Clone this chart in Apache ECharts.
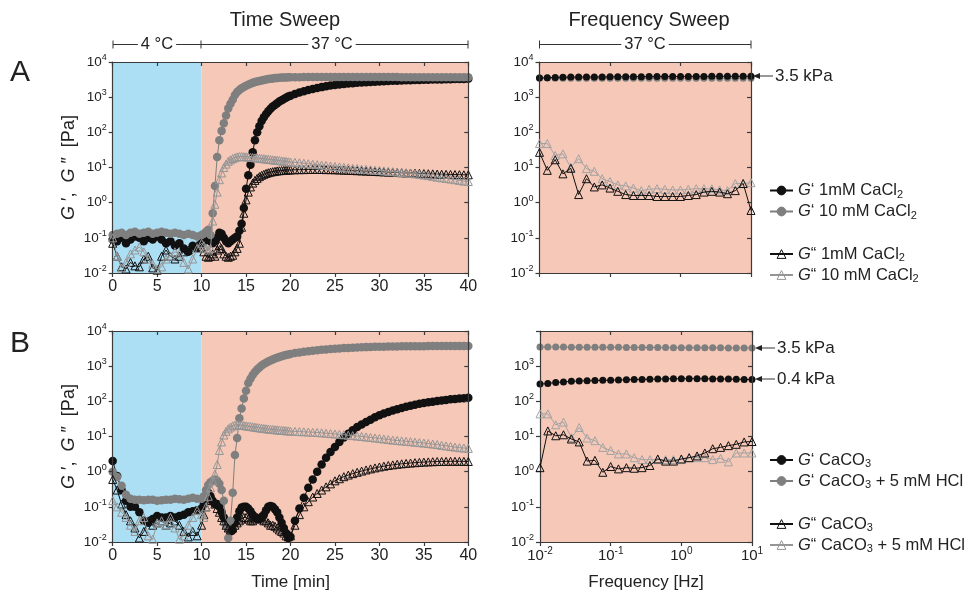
<!DOCTYPE html>
<html><head><meta charset="utf-8">
<script src="https://cdn.jsdelivr.net/npm/echarts@6/dist/echarts.min.js"></script>
<style>html,body{margin:0;padding:0;background:#fff}#c{width:971px;height:597px}</style>
</head><body><div id="c"></div>
<script>
// ---------- DATA ----------
const timeMin = [0,0.5,1,1.5,2,2.5,3,3.5,4,4.5,5,5.5,6,6.5,7,7.5,8,8.5,9,9.5,10,
 10.25,10.5,10.75,11,11.25,11.5,11.75,12,12.25,12.5,12.75,13,13.25,13.5,13.75,14,14.25,14.5,14.75,15,15.25,15.5,15.75,16,16.25,16.5,16.75,17,17.25,17.5,17.75,18,18.25,18.5,18.75,19,19.25,19.5,19.75,20,
 20.5,21,21.5,22,22.5,23,23.5,24,24.5,25,25.5,26,26.5,27,27.5,28,28.5,29,29.5,30,30.5,31,31.5,32,32.5,33,33.5,34,34.5,35,35.5,36,36.5,37,37.5,38,38.5,39,39.5,40];
const phaseBounds = [0, 10, 40];
const timeTicks = [0,5,10,15,20,25,30,35,40];

// Panel A, time sweep
const aTimeGp1mM = [0.09,0.08,0.1,0.07,0.09,0.11,0.1,0.08,0.1,0.09,0.11,0.09,0.07,0.08,0.06,0.07,0.05,0.04,0.06,0.05,0.07,
 0.08,0.1,0.09,0.08, 0.07,0.08,0.1,0.14, 0.13,0.1,0.08,0.07, 0.08,0.09,0.1,0.11, 0.16,0.25,0.7,2.5, 6,12,27,60, 100,150,210,270, 330,400,470,540, 600,670,750,820, 890,960,1040,1100,
 1230,1360,1480,1600,1720,1830,1930,2030,2130,2220, 2300,2370,2440,2500,2560,2610,2660,2710,2750,2790, 2830,2870,2910,2950,2980,3010,3040,3070,3100,3120, 3140,3160,3180,3200,3220,3240,3260,3280,3300,3320];
const aTimeGp10mM = [0.12,0.13,0.14,0.12,0.14,0.15,0.13,0.14,0.15,0.13,0.14,0.15,0.14,0.13,0.14,0.13,0.12,0.13,0.12,0.11,0.12,
 0.13,0.15,0.17,0.12, 0.5,3,20,60, 110,180,300,480, 650,850,1150,1400, 1600,1800,1950,2100, 2250,2400,2550,2700, 2800,2900,3000,3100, 3200,3280,3350,3420, 3480,3530,3570,3600, 3630,3650,3670,3690,
 3700,3710,3720,3720,3730,3730,3740,3740,3740,3740, 3740,3740,3740,3740,3740,3740,3740,3730,3730,3730, 3730,3720,3720,3720,3710,3710,3710,3700,3700,3700, 3700,3690,3690,3690,3680,3680,3680,3670,3670,3670];
const aTimeGpp1mM = [0.07,0.03,0.015,0.013,0.02,0.016,0.015,0.025,0.03,0.014,0.012,0.03,0.045,0.03,0.025,0.03,0.04,0.045,0.055,0.06,0.05,
 0.04,0.03,0.028,0.03, 0.035,0.03,0.045,0.06, 0.05,0.035,0.03,0.028, 0.03,0.032,0.04,0.05, 0.07,0.2,0.5,1.2, 2,2.8,3.6,4.3, 4.9,5.5,6,6.4, 6.8,7.1,7.4,7.6, 7.8,8,8.1,8.2, 8.3,8.4,8.5,8.5,
 8.6,8.7,8.7,8.8,8.8,8.8,8.8,8.7,8.7,8.6, 8.5,8.4,8.3,8.2,8.1,8,7.9,7.8,7.7,7.6, 7.5,7.4,7.3,7.2,7.1,7,6.95,6.9,6.8,6.7, 6.65,6.6,6.5,6.45,6.4,6.35,6.3,6.25,6.2,6.2];
const aTimeGpp10mM = [0.1,0.03,0.014,0.02,0.035,0.045,0.055,0.04,0.025,0.018,0.013,0.015,0.025,0.03,0.04,0.035,0.02,0.013,0.025,0.05,0.07,
 0.06,0.05,0.045,0.05, 0.3,0.9,2,4.5, 7,10,12.5,15, 16.5,18,19,20, 20.5,20.5,20.3,20, 19.8,19.5,19.2,18.9, 18.6,18.3,18,17.7, 17.4,17.1,16.8,16.5, 16.2,16,15.7,15.4, 15.1,14.8,14.5,14.3,
 14,13.6,13.2,12.8,12.4,12,11.7,11.4,11,10.7, 10.4,10.1,9.8,9.5,9.3,9,8.8,8.6,8.4,8.2, 8,7.8,7.6,7.4,7.2,7,6.8,6.6,6.4,6.1, 5.9,5.6,5.3,5.1,4.9,4.7,4.5,4.3,4.1,4];

// Panel B, time sweep
const bTimeGpCaCO3 = [2.0,0.75,0.3,0.15,0.1,0.1,0.07,0.04,0.035,0.045,0.055,0.05,0.05,0.055,0.05,0.055,0.06,0.07,0.075,0.08,0.09,
 0.12,0.2,0.25,0.2, 0.15,0.12,0.12,0.1, 0.07,0.05,0.035,0.025, 0.02,0.022,0.035,0.05, 0.075,0.095,0.1,0.1, 0.09,0.075,0.06,0.05, 0.045,0.045,0.05,0.06, 0.08,0.1,0.105,0.1, 0.085,0.07,0.05,0.035, 0.025,0.018,0.013,0.014,
 0.04,0.09,0.18,0.35,0.6,1.0,1.6,2.5,3.6,5, 7,9.3,12,15,18.5,22,26,30,35,40, 45,50,55,60,65,70,75,80,85,90, 94,98,102,106,110,114,117,120,123,126];
const bTimeGpHCl = [1.0,0.7,0.4,0.22,0.17,0.16,0.16,0.155,0.16,0.16,0.15,0.155,0.16,0.16,0.17,0.165,0.16,0.17,0.18,0.17,0.17,
 0.2,0.3,0.42,0.5, 0.55,0.6,0.55,0.45, 0.3,0.15,0.03,0.013, 0.04,0.25,3,9, 33,63,120,200, 330,440,560,680, 800,920,1040,1150, 1250,1350,1450,1550, 1650,1740,1830,1920, 2000,2080,2160,2230,
 2350,2460,2560,2660,2750,2840,2920,3000,3070,3140, 3200,3260,3310,3360,3400,3440,3480,3510,3540,3570, 3590,3610,3630,3650,3660,3670,3680,3690,3700,3710, 3720,3720,3730,3730,3740,3740,3740,3750,3750,3750];
const bTimeGppCaCO3 = [0.6,0.3,0.12,0.06,0.04,0.025,0.013,0.02,0.04,0.03,0.035,0.04,0.03,0.035,0.04,0.03,0.02,0.014,0.02,0.015,0.03,
 0.06,0.1,0.15,0.17, 0.15,0.12,0.09,0.07, 0.05,0.04,0.03,0.025, 0.022,0.025,0.03,0.035, 0.04,0.045,0.05,0.05, 0.045,0.04,0.04,0.045, 0.05,0.05,0.045,0.04, 0.04,0.035,0.03,0.03, 0.028,0.025,0.022,0.02, 0.018,0.015,0.014,0.015,
 0.03,0.06,0.1,0.14,0.19,0.24,0.3,0.37,0.45,0.55, 0.63,0.72,0.8,0.88,0.96,1.04,1.12,1.2,1.28,1.36, 1.43,1.5,1.56,1.62,1.67,1.72,1.76,1.8,1.84,1.87, 1.9,1.92,1.94,1.95,1.96,1.97,1.97,1.97,1.96,1.95];
const bTimeGppHCl = [0.15,0.1,0.07,0.05,0.03,0.02,0.04,0.05,0.015,0.012,0.035,0.04,0.03,0.05,0.025,0.012,0.015,0.03,0.05,0.08,0.06,
 0.05,0.1,0.2,0.35, 0.55,0.85,1.6,4, 7,11,14,16.5, 18.5,20,21,21.5, 21.5,21,20.5,20, 19.6,19.2,18.8,18.4, 18,17.6,17.2,16.9, 16.6,16.3,16,15.8, 15.6,15.4,15.2,15, 14.8,14.6,14.4,14.2,
 14,13.8,13.6,13.4,13.2,13,12.7,12.4,12.1,11.8, 11.5,11.2,10.9,10.6,10.3,10,9.7,9.4,9.1,8.8, 8.5,8.2,7.9,7.7,7.5,7.3,7.1,6.9,6.7,6.5, 6.3,6.1,5.9,5.6,5.4,5.2,5,4.8,4.7,4.6];

// Frequency sweeps
const freqHz = [0.01,0.0129,0.0167,0.0215,0.0278,0.0359,0.0464,0.0599,0.0774,0.1,0.129,0.167,0.215,0.278,0.359,0.464,0.599,0.774,1,1.29,1.67,2.15,2.78,3.59,4.64,5.99,7.74,10];
const aFreqGp1mM = [3500,3550,3650,3700,3720,3740,3750,3760,3770,3780,3800,3810,3820,3830,3840,3850,3860,3870,3880,3890,3900,3900,3910,3910,3920,3920,3930,3930];
const aFreqGp10mM = [3500,3480,3450,3450,3440,3440,3440,3440,3450,3450,3450,3450,3450,3450,3450,3450,3450,3450,3450,3460,3460,3460,3460,3460,3470,3470,3470,3470];
const aFreqGpp1mM = [27,8.3,16.6,6.6,9.5,1.7,4.8,2.8,3.2,2.6,2.1,1.7,1.6,1.6,1.6,1.5,1.5,1.5,1.5,1.6,1.7,2.0,2.1,2.0,1.8,2.2,3.5,0.6];
const aFreqGpp10mM = [48,48,22,24.5,10.2,17.8,9.3,7.8,4.8,4.0,3.2,3.0,2.6,2.2,2.4,2.5,2.4,2.3,2.3,2.4,2.5,2.5,2.5,2.3,2.2,3.5,3.5,3.7];
const bFreqGpCaCO3 = [310,320,345,355,370,380,385,390,395,400,405,410,415,420,425,430,435,440,440,440,440,440,435,435,430,425,420,415];
const bFreqGpHCl = [3500,3500,3480,3480,3460,3460,3450,3450,3440,3440,3430,3420,3400,3400,3390,3380,3370,3360,3350,3350,3340,3330,3320,3320,3310,3300,3300,3300];
const bFreqGppCaCO3 = [1.3,14.4,10.5,11.2,8.5,7,2.0,2.1,0.96,1.4,1.2,1.3,1.25,1.3,1.5,2.3,2.0,2.0,2.3,2.5,2.8,3.4,4.5,4.9,5.5,6,7,7.2];
const bFreqGppHCl = [44,44,21.5,25.7,9.3,18,9,7.6,4.9,4.0,3.2,3.2,2.5,2.2,2.2,2.2,2.2,2.2,2.2,2.5,2.5,2.5,2.2,2.4,1.9,3.4,3.4,3.4];

const legendLabels = {
  aGp1: '{i|G}‘ 1mM CaCl{sub|2}', aGp10: '{i|G}‘ 10 mM CaCl{sub|2}',
  aGpp1: '{i|G}“ 1mM CaCl{sub|2}', aGpp10: '{i|G}“ 10 mM CaCl{sub|2}',
  bGp: '{i|G}‘ CaCO{sub|3}', bGpH: '{i|G}‘ CaCO{sub|3} + 5 mM HCl',
  bGpp: '{i|G}“ CaCO{sub|3}', bGppH: '{i|G}“ CaCO{sub|3} + 5 mM HCl'
};

// ---------- STYLE ----------
const FONT = '"Liberation Sans", Arial, Helvetica, sans-serif';
const BLUE = '#ADDFF4', PINK = '#F6C8B8';
const TXT = '#222';
const AX = {color: '#3a3a3a', width: 1.2};
const C_BLACK = '#111', C_GRAY = '#7f7f7f', C_LGRAY = '#a3a3a3', C_TGRAY = '#959595';

const ySup = {b:{fontSize:13.5,fontFamily:FONT,color:TXT,lineHeight:18}, s:{fontSize:9,fontFamily:FONT,color:TXT,lineHeight:9,verticalAlign:'top'}};
const xSup = {b:{fontSize:15,fontFamily:FONT,color:TXT,lineHeight:20}, s:{fontSize:10,fontFamily:FONT,color:TXT,lineHeight:10,verticalAlign:'top'}};
function expFmt(hideTop){ return v => { const e = Math.round(Math.log10(v)); if (hideTop && e === 4) return ''; return '{b|10}{s|' + e + '}'; }; }

const grids = [
  {left:112.7, top:62, width:355.6, height:211},
  {left:539.5, top:62, width:211.5, height:211, show:true, backgroundColor:PINK, borderWidth:0},
  {left:112.7, top:331, width:355.6, height:211},
  {left:540, top:331, width:212, height:211, show:true, backgroundColor:PINK, borderWidth:0}
];

function xPair(gi, isTime, showLabels, name){
  const base = isTime ? {type:'value', min:timeTicks[0], max:timeTicks[timeTicks.length-1], interval:timeTicks[1]-timeTicks[0]}
                      : {type:'log', logBase:10, min:freqHz[0], max:freqHz[freqHz.length-1]};
  const bottom = Object.assign({gridIndex:gi, position:'bottom', z:5,
    axisLine:{show:true, onZero:false, lineStyle:AX},
    axisTick:{show:true, inside:false, length:4, lineStyle:AX},
    minorTick:{show:false}, splitLine:{show:false},
    axisLabel: isTime ? {show:showLabels, fontSize:16, fontFamily:FONT, color:TXT, margin:6}
                      : {show:showLabels, formatter:expFmt(false), rich:xSup, margin:4},
    name: name || '', nameLocation:'middle', nameGap:32,
    nameTextStyle:{fontSize:17, fontFamily:FONT, color:TXT}
  }, base);
  const top = Object.assign({gridIndex:gi, position:'top', z:5,
    axisLine:{show:true, onZero:false, lineStyle:AX},
    axisTick:{show:true, inside:true, length:4, lineStyle:AX},
    splitLine:{show:false}, axisLabel:{show:false}
  }, base);
  return [bottom, top];
}
function yPair(gi, hideTop, withName){
  const base = {type:'log', logBase:10, min:0.01, max:10000};
  const left = Object.assign({gridIndex:gi, position:'left', z:5,
    axisLine:{show:true, onZero:false, lineStyle:AX},
    axisTick:{show:true, inside:false, length:4, lineStyle:AX},
    splitLine:{show:false},
    axisLabel:{formatter:expFmt(hideTop), rich:ySup, margin:6},
    name: withName ? '{i|G} ′,  {i|G} ″  [Pa]' : '', nameLocation:'middle', nameGap:35, nameRotate:90,
    nameTextStyle:{fontSize:18, fontFamily:FONT, color:TXT, rich:{i:{fontStyle:'italic', fontSize:18, fontFamily:FONT, color:TXT}}}
  }, base);
  const right = Object.assign({gridIndex:gi, position:'right', z:5,
    axisLine:{show:true, onZero:false, lineStyle:AX},
    axisTick:{show:true, inside:true, length:4, lineStyle:AX},
    splitLine:{show:false}, axisLabel:{show:false}
  }, base);
  return [left, right];
}

const xAxis = [].concat(xPair(0,true,true), xPair(1,false,false), xPair(2,true,true,'Time [min]'), xPair(3,false,true,'Frequency [Hz]'));
const yAxis = [].concat(yPair(0,false,true), yPair(1,false,false), yPair(2,false,true), yPair(3,true,false));

function pairs(xs, ys){ return xs.map((x,i)=>[x, ys[i]]); }
function circ(name, gi, xs, ys, color, size, z){
  return {name, type:'line', xAxisIndex:2*gi, yAxisIndex:2*gi, data:pairs(xs,ys), z,
    symbol:'circle', symbolSize:size, showSymbol:true, showAllSymbol:true,
    itemStyle:{color, borderColor:color, borderWidth:0},
    lineStyle:{color, width:1}, emphasis:{disabled:true}};
}
function tri(name, gi, xs, ys, color, size, z){
  return {name, type:'line', xAxisIndex:2*gi, yAxisIndex:2*gi, data:pairs(xs,ys), z,
    symbol:'triangle', symbolSize:size, showSymbol:true, showAllSymbol:true,
    itemStyle:{color:'rgba(255,255,255,0)', borderColor:color, borderWidth:1},
    lineStyle:{color, width:1}, emphasis:{disabled:true}};
}
function phaseBg(gi){
  return {type:'line', xAxisIndex:2*gi, yAxisIndex:2*gi, data:[[phaseBounds[0],1]], z:1, silent:true,
    showSymbol:false, lineStyle:{width:0}, legendHoverLink:false,
    markArea:{silent:true, data:[
      [{xAxis:phaseBounds[0], itemStyle:{color:BLUE}}, {xAxis:phaseBounds[1]}],
      [{xAxis:phaseBounds[1], itemStyle:{color:PINK}}, {xAxis:phaseBounds[2]}]
    ]}};
}

const series = [
  phaseBg(0), phaseBg(2),
  circ('aGp1', 0, timeMin, aTimeGp1mM, C_BLACK, 8.5, 3),
  circ('aGp10', 0, timeMin, aTimeGp10mM, C_GRAY, 8.5, 4),
  tri('aGpp1', 0, timeMin, aTimeGpp1mM, C_BLACK, 8, 5),
  tri('aGpp10', 0, timeMin, aTimeGpp10mM, C_TGRAY, 8, 6),
  circ('aGp10', 1, freqHz, aFreqGp10mM, C_GRAY, 7, 3),
  circ('aGp1', 1, freqHz, aFreqGp1mM, C_BLACK, 7, 4),
  tri('aGpp10', 1, freqHz, aFreqGpp10mM, C_LGRAY, 8, 5),
  tri('aGpp1', 1, freqHz, aFreqGpp1mM, C_BLACK, 8, 6),
  circ('bGp', 2, timeMin, bTimeGpCaCO3, C_BLACK, 8.5, 3),
  circ('bGpH', 2, timeMin, bTimeGpHCl, C_GRAY, 8.5, 4),
  tri('bGpp', 2, timeMin, bTimeGppCaCO3, C_BLACK, 8, 5),
  tri('bGppH', 2, timeMin, bTimeGppHCl, C_TGRAY, 8, 6),
  circ('bGpH', 3, freqHz, bFreqGpHCl, C_GRAY, 7, 3),
  circ('bGp', 3, freqHz, bFreqGpCaCO3, C_BLACK, 7, 4),
  tri('bGppH', 3, freqHz, bFreqGppHCl, C_LGRAY, 8, 5),
  tri('bGpp', 3, freqHz, bFreqGppCaCO3, C_BLACK, 8, 6)
];

const legRich = {i:{fontStyle:'italic', fontSize:16.5, fontFamily:FONT, color:TXT, lineHeight:19},
                 sub:{fontSize:11, fontFamily:FONT, color:TXT, lineHeight:8, verticalAlign:'bottom'}};
function leg(names, top, gap){
  return {data:names, orient:'vertical', left:764, top, itemWidth:23, itemHeight:11, itemGap:gap,
    selectedMode:false, formatter:n => legendLabels[n], itemStyle:{borderWidth:1},
    textStyle:{fontSize:16.5, fontFamily:FONT, color:TXT, lineHeight:19, rich:legRich}};
}

const G = [];
function gLine(x1,y1,x2,y2){ G.push({type:'line', silent:true, shape:{x1,y1,x2,y2}, style:{stroke:'#333', lineWidth:1}}); }
function gText(x,y,text,size,align,bg){ G.push({type:'text', silent:true, x, y, z:10, style:{text, fontSize:size, fontFamily:FONT, fill:TXT, align:align||'center', verticalAlign:'middle', backgroundColor:bg||'transparent', padding: bg?[0,3]:0}}); }
function arrow(x, y, text){
  gLine(x+3, y, x+20, y);
  G.push({type:'polygon', silent:true, shape:{points:[[x,y],[x+7,y-3],[x+7,y+3]]}, style:{fill:'#222'}});
  gText(x+22, y, text, 17, 'left');
}
gText(285, 20, 'Time Sweep', 20);
gText(649, 20, 'Frequency Sweep', 20);
gLine(113, 44.5, 468, 44.5); [113,201,468].forEach(x=>gLine(x,40.5,x,48.5));
gText(157, 44.5, '4 °C', 16.5, 'center', '#fff');
gText(332, 44.5, '37 °C', 16.5, 'center', '#fff');
gLine(539.5, 44.5, 751, 44.5); [539.5,751].forEach(x=>gLine(x,40.5,x,48.5));
gText(645, 44.5, '37 °C', 16.5, 'center', '#fff');
gText(10, 73, 'A', 30, 'left');
gText(10, 344, 'B', 30, 'left');
arrow(753, 76, '3.5 kPa');
arrow(755, 348, '3.5 kPa');
arrow(755, 379, '0.4 kPa');

const chart = echarts.init(document.getElementById('c'), null, {renderer:'canvas'});
chart.setOption({
  animation:false, backgroundColor:'#fff',
  textStyle:{fontFamily:FONT},
  grid:grids, xAxis, yAxis, series,
  legend:[leg(['aGp1','aGp10'],176,2), leg(['aGpp1','aGpp10'],239.5,2), leg(['bGp','bGpH'],445.5,2), leg(['bGpp','bGppH'],509.5,2)],
  graphic:G
});
</script></body></html>
